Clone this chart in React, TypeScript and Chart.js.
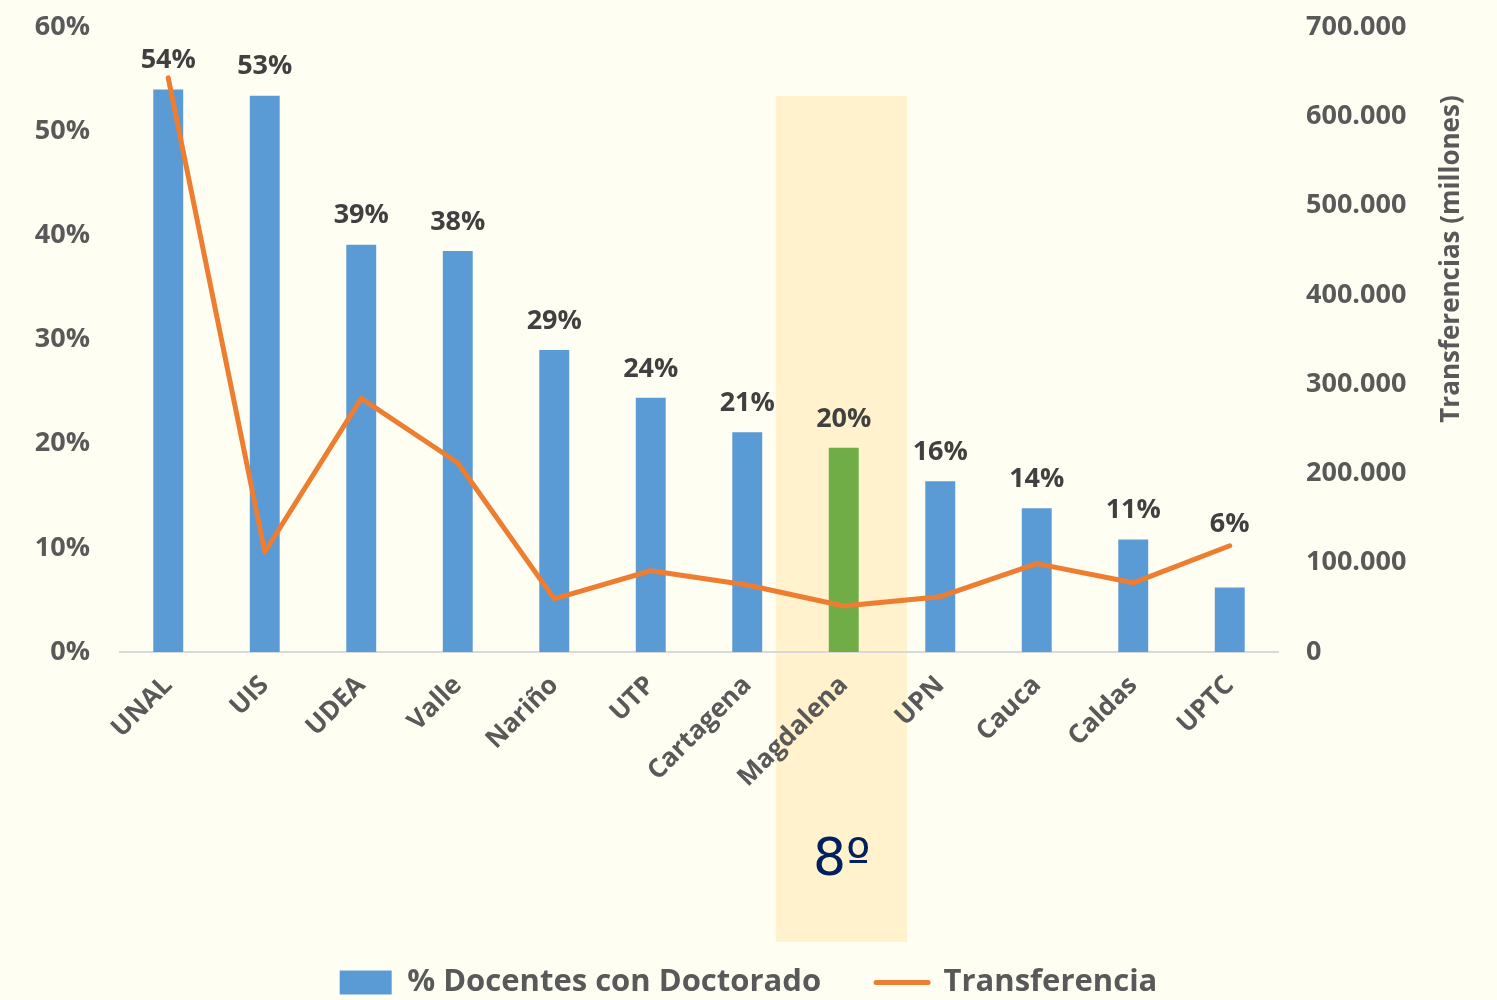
import React, { useEffect, useRef } from 'react';
import { Chart, registerables } from 'chart.js';

Chart.register(...registerables);

const categories = ['UNAL', 'UIS', 'UDEA', 'Valle', 'Nariño', 'UTP', 'Cartagena', 'Magdalena', 'UPN', 'Cauca', 'Caldas', 'UPTC'];
const docentesPct = [54.0, 53.4, 39.1, 38.5, 29.0, 24.4, 21.1, 19.6, 16.4, 13.8, 10.8, 6.2];
const pctLabels = ['54%', '53%', '39%', '38%', '29%', '24%', '21%', '20%', '16%', '14%', '11%', '6%'];
const transferencias = [643000, 112000, 284000, 212000, 59500, 91000, 75000, 51500, 62000, 99000, 77500, 119000];
const highlightIndex = 7;
const highlightText = '8º';
const seriesNames = ['% Docentes con Doctorado', 'Transferencia'];
const rightAxisTitle = 'Transferencias (millones)';
const leftMax = 60;
const leftStep = 10;
const rightMax = 700000;
const rightStep = 100000;

const BG = '#FFFEF2';
const BLUE = '#5B9BD5';
const GREEN = '#70AD47';
const ORANGE = '#ED7D31';
const HIGHLIGHT = '#FFF2CC';
const TEXT = '#595959';
const LABEL = '#404040';
const FONT = "'Open Sans', sans-serif";

const fmtThousands = (v: number) => (v === 0 ? '0' : String(v).replace(/\B(?=(\d{3})+(?!\d))/g, '.'));

const bgPlugin = {
  id: 'bgHighlight',
  beforeDraw(chart: any) {
    const { ctx, width, height, chartArea, scales } = chart;
    ctx.save();
    ctx.fillStyle = BG;
    ctx.fillRect(0, 0, width, height);
    const x = scales.x;
    const cat = x.getPixelForValue(1) - x.getPixelForValue(0);
    const cx = x.getPixelForValue(highlightIndex);
    const left = cx - cat * 0.705;
    const right = cx + cat * 0.655;
    const top = chartArea.top + 69;
    const bottom = chartArea.bottom + 290;
    ctx.fillStyle = HIGHLIGHT;
    ctx.fillRect(left, top, right - left, bottom - top);
    ctx.restore();
  },
  afterDraw(chart: any) {
    const { ctx, chartArea, scales } = chart;
    const x = scales.x;
    const cx = x.getPixelForValue(highlightIndex);
    ctx.save();
    ctx.fillStyle = '#002060';
    ctx.font = `normal 52px 'DejaVu Sans', ${FONT}`;
    ctx.textAlign = 'center';
    ctx.textBaseline = 'middle';
    ctx.fillText(highlightText, cx - 2, chartArea.bottom + 209);
    // right axis title, reading bottom-to-top
    ctx.translate(chartArea.right + 174, chartArea.top + 232);
    ctx.rotate(-Math.PI / 2);
    ctx.fillStyle = TEXT;
    ctx.font = `bold 26px ${FONT}`;
    ctx.fillText(rightAxisTitle, 0, 0);
    ctx.restore();
  },
  afterDatasetsDraw(chart: any) {
    const { ctx } = chart;
    const meta = chart.getDatasetMeta(0);
    const lineMeta = chart.getDatasetMeta(1);
    ctx.save();
    ctx.fillStyle = LABEL;
    ctx.font = `bold 27px ${FONT}`;
    ctx.textAlign = 'center';
    ctx.textBaseline = 'middle';
    meta.data.forEach((el: any, i: number) => {
      let y = el.y - 29;
      const ly = lineMeta.data[i] ? lineMeta.data[i].y : Infinity;
      // avoid overlapping the line: lift label above the line point when they collide
      if (ly < y + 12 && ly > y - 30) y = ly - 21;
      ctx.fillText(pctLabels[i], el.x, y);
    });
    ctx.restore();
  },
};

export default function App() {
  const ref = useRef<HTMLCanvasElement>(null);
  useEffect(() => {
    const canvas = ref.current!;
    const chart = new Chart(canvas, {
      type: 'bar',
      data: {
        labels: categories,
        datasets: [
          {
            type: 'bar',
            label: seriesNames[0],
            data: docentesPct,
            backgroundColor: categories.map((_, i) => (i === highlightIndex ? GREEN : BLUE)),
            borderWidth: 0,
            barPercentage: 0.31,
            categoryPercentage: 1.0,
            yAxisID: 'y',
            order: 2,
            pointStyle: 'rect',
          } as any,
          {
            type: 'line',
            label: seriesNames[1],
            data: transferencias,
            borderColor: ORANGE,
            backgroundColor: ORANGE,
            borderWidth: 5,
            borderCapStyle: 'round',
            borderJoinStyle: 'round',
            pointRadius: 0,
            pointHoverRadius: 0,
            tension: 0,
            yAxisID: 'y1',
            order: 1,
            pointStyle: 'line',
          } as any,
        ],
      },
      options: {
        responsive: false,
        animation: false,
        layout: { padding: { top: 27, left: 0, right: 0, bottom: -8 } },
        plugins: {
          tooltip: { enabled: false },
          legend: {
            position: 'bottom',
            labels: {
              usePointStyle: true,
              pointStyleWidth: 52,
              boxHeight: 24,
              padding: 55,
              color: TEXT,
              font: { family: FONT, size: 31, weight: 'bold' },
              sort: (a: any, b: any) => a.datasetIndex - b.datasetIndex,
              generateLabels(chart: any) {
                const items = Chart.defaults.plugins.legend.labels.generateLabels(chart);
                items.forEach((it: any) => {
                  if (it.datasetIndex === 0) {
                    it.fillStyle = BLUE;
                    it.strokeStyle = BLUE;
                    it.lineWidth = 0;
                    it.pointStyle = 'rect';
                  } else {
                    it.fillStyle = ORANGE;
                    it.strokeStyle = ORANGE;
                    it.lineWidth = 5;
                    it.lineCap = 'round';
                    it.pointStyle = 'line';
                  }
                });
                return items;
              },
            },
          },
        },
        scales: {
          x: {
            offset: true,
            grid: { display: false },
            border: { display: true, color: '#D9D9D9', width: 2 },
            ticks: {
              color: TEXT,
              font: { family: FONT, size: 26, weight: 'bold' },
              minRotation: 45,
              maxRotation: 45,
              autoSkip: false,
              padding: 10,
            },
            afterFit(s: any) {
              s.height = 260;
            },
          },
          y: {
            position: 'left',
            min: 0,
            max: leftMax,
            grid: { display: false },
            border: { display: false },
            ticks: {
              stepSize: leftStep,
              color: TEXT,
              font: { family: FONT, size: 27, weight: 'bold' },
              padding: 22,
              callback: (v: any) => `${v}%`,
            },
            afterFit(s: any) {
              s.width = 120;
              s.paddingTop = 0;
              s.paddingBottom = 0;
            },
          },
          y1: {
            position: 'right',
            min: 0,
            max: rightMax,
            grid: { display: false },
            border: { display: false },
            ticks: {
              stepSize: rightStep,
              color: TEXT,
              font: { family: FONT, size: 27, weight: 'bold' },
              padding: 20,
              callback: (v: any) => fmtThousands(Number(v)),
            },
            afterFit(s: any) {
              s.width = 219;
              s.paddingTop = 0;
              s.paddingBottom = 0;
            },
          },
        },
      },
      plugins: [bgPlugin],
    });
    return () => chart.destroy();
  }, []);
  return (
    <div style={{ position: 'fixed', left: 0, top: 0, width: 1497, height: 1000, background: BG }}>
      <canvas ref={ref} width={1497} height={1000} style={{ display: 'block', width: 1497, height: 1000 }} />
    </div>
  );
}
